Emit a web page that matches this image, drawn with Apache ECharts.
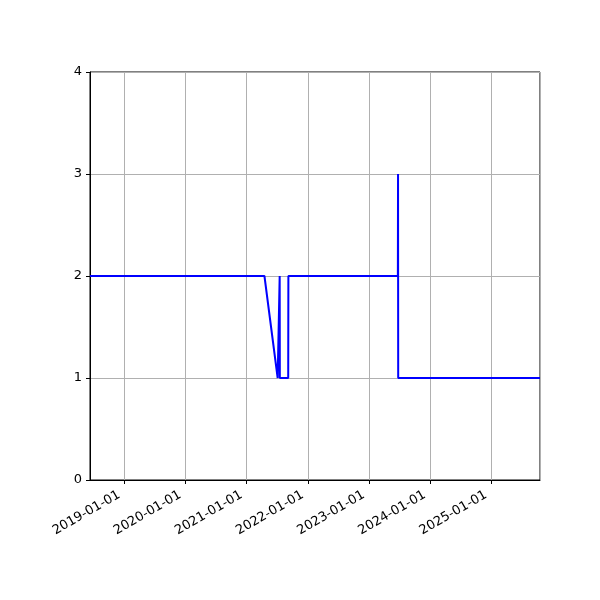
<!DOCTYPE html>
<html><head><meta charset="utf-8">
<script src="https://cdn.jsdelivr.net/npm/echarts@6/dist/echarts.min.js"></script>
<style>html,body{margin:0;padding:0;background:#fff}#c{width:600px;height:600px}</style>
</head><body><div id="c"></div>
<script>
const dates = ['2018-06-10','2021-04-17','2021-07-05','2021-07-16','2021-07-17','2021-07-18','2021-09-06','2021-09-07','2023-06-23','2023-06-24','2023-06-25','2025-10-19'];
const values = [2,2,1,1,2,1,1,2,2,3,1,1];
const yTicks = [0,1,2,3,4];
const xMin = '2018-06-10', xMax = '2025-10-19';

const chart = echarts.init(document.getElementById('c'));
const font = 'DejaVu Sans';
chart.setOption({
  animation:false,
  grid:{left:90,right:60,top:72,bottom:120,show:true,borderColor:'#000',borderWidth:1,backgroundColor:'transparent'},
  xAxis:{type:'time',min:xMin,max:xMax,
    minInterval:365*86400000, maxInterval:366*86400000,
    axisLine:{show:true,onZero:false,lineStyle:{color:'#000',width:1}},
    axisTick:{show:true,length:4,lineStyle:{color:'#000'}},
    splitLine:{show:true,lineStyle:{color:'#b0b0b0',width:1}},
    axisLabel:{rotate:30,fontFamily:font,fontSize:13,color:'#000',formatter:'{yyyy}-{MM}-{dd}',margin:11,padding:[0,6,0,0],hideOverlap:false,showMinLabel:false,showMaxLabel:false}},
  yAxis:{type:'value',min:0,max:4,interval:1,
    axisLine:{show:true,lineStyle:{color:'#000',width:1}},
    axisTick:{show:true,length:4,lineStyle:{color:'#000'}},
    splitLine:{show:true,lineStyle:{color:'#b0b0b0',width:1}},
    axisLabel:{fontFamily:font,fontSize:13,color:'#000',margin:8,formatter:v=>yTicks.includes(v)?String(v):''}},
  series:[{type:'line',data:dates.map((d,i)=>[d,values[i]]),showSymbol:false,
    lineStyle:{color:'#0000ff',width:2},itemStyle:{color:'#0000ff'}}]
});
</script></body></html>
